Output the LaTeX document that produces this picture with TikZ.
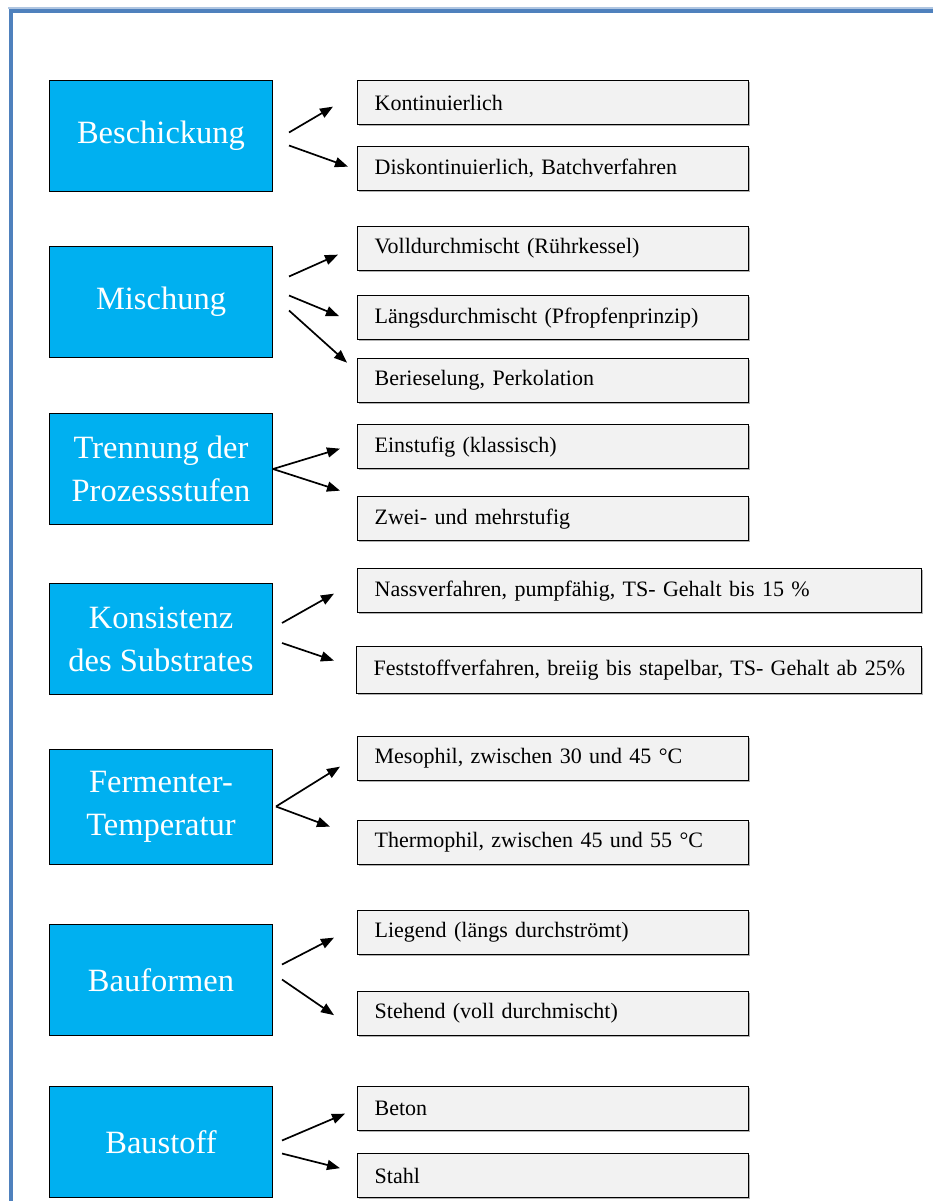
\documentclass[tikz,border=0pt]{standalone}
\usepackage{fontspec}
\setmainfont{Liberation Serif}
\usetikzlibrary{arrows.meta,calc,shadows}
\definecolor{framecol}{HTML}{4F81BD}
\definecolor{catfill}{HTML}{00B0F0}
\definecolor{optfill}{HTML}{F2F2F2}
\tikzset{
  cat/.style={draw=black, line width=1pt, fill=catfill, text=white,
    minimum width=223pt, minimum height=111pt, anchor=north west,
    align=center, inner sep=0pt,
    font=\fontsize{32.5}{43}\selectfont},
  opt/.style={draw=black, line width=1.3pt, fill=optfill,
    drop shadow={shadow xshift=1.5pt, shadow yshift=-1.5pt, fill=black!30, opacity=1},
    minimum height=44pt, anchor=north west, inner xsep=17pt, inner ysep=0pt,
    text width=357pt, align=left,
    font=\fontsize{22}{26}\selectfont},
  wideopt/.style={opt, text width=531pt},
  arr/.style={line width=1.7pt, -{Triangle[length=13pt,width=10pt]}},
}
\begin{document}
\begin{tikzpicture}[x=1pt,y=1pt]
\useasboundingbox (0,0) rectangle (933,-1201);
% page frame
\draw[framecol!45, line width=1.5pt] (8,-8) -- (933,-8);
\draw[framecol, line width=4pt] (11,-1201) -- (11,-11) -- (933,-11);

% categories
\node[cat] (b1) at (49,-80)   {Beschickung};
\node[cat] (b2) at (49,-246)  {Mischung};
\node[cat] (b3) at (49,-413)  {Trennung der\\Prozessstufen};
\node[cat] (b4) at (49,-583)  {Konsistenz\\des Substrates};
\node[cat, minimum height=115pt] (b5) at (49,-749)  {Fermenter-\\Temperatur};
\node[cat] (b6) at (49,-924)  {Bauformen};
\node[cat] (b7) at (49,-1086) {Baustoff};

% options
\node[opt] (t1)  at (357,-80)   {Kontinuierlich};
\node[opt] (t2)  at (357,-146)  {Diskontinuierlich, Batchverfahren};
\node[opt] (t3)  at (357,-226)  {Volldurchmischt (Rührkessel)};
\node[opt] (t4)  at (357,-295)  {Längsdurchmischt (Pfropfenprinzip)};
\node[opt] (t5)  at (357,-358)  {Berieselung, Perkolation};
\node[opt] (t6)  at (357,-424)  {Einstufig (klassisch)};
\node[opt] (t7)  at (357,-496)  {Zwei- und mehrstufig};
\node[wideopt, text width=530pt] (t8) at (357,-568)
  {\mbox{Nassverfahren, pumpfähig, TS- Gehalt bis 15 \%}};
\node[wideopt, minimum height=47pt] (t9) at (356,-646)
  {\mbox{Feststoffverfahren, breiig bis stapelbar, TS- Gehalt ab 25\%}};
\node[opt] (t10) at (357,-736)  {Mesophil, zwischen 30 und 45 °C};
\node[opt] (t11) at (357,-820)  {Thermophil, zwischen 45 und 55 °C};
\node[opt] (t12) at (357,-910)  {Liegend (längs durchströmt)};
\node[opt] (t13) at (357,-991)  {Stehend (voll durchmischt)};
\node[opt] (t14) at (357,-1086) {Beton};
\node[opt] (t15) at (357,-1153) {Stahl};

% connectors
\draw[arr] ($(b1.east)+(16,3.5)$)  -- ($(t1.west)+(-24,-4)$);
\draw[arr] ($(b1.east)+(16,-9.5)$) -- ($(t2.west)+(-9,2)$);

\draw[arr] ($(b2.east)+(16,25.5)$) -- ($(t3.west)+(-19,-6)$);
\draw[arr] ($(b2.east)+(16,6.5)$)  -- ($(t4.west)+(-18,1.5)$);
\draw[arr] ($(b2.east)+(16,-8.5)$) -- ($(t5.west)+(-10,18)$);

\draw[arr] (b3.east) -- ($(t6.west)+(-17,-2)$);
\draw[arr] (b3.east) -- ($(t7.west)+(-17,28)$);

\draw[arr] ($(b4.east)+(9,16)$) -- ($(t8.west)+(-23,-3)$);
\draw[arr] ($(b4.east)+(9,-4)$) -- ($(t9.west)+(-22,9.5)$);

\draw[arr] ($(b5.east)+(3,0.5)$) -- ($(t10.west)+(-17,-8)$);
\draw[arr] ($(b5.east)+(3,0.5)$) -- ($(t11.west)+(-27,16)$);

\draw[arr] ($(b6.east)+(9,15.5)$) -- ($(t12.west)+(-23,-5)$);
\draw[arr] ($(b6.east)+(9,0.5)$)  -- ($(t13.west)+(-23,-1.5)$);

\draw[arr] ($(b7.east)+(9,1.5)$)   -- ($(t14.west)+(-12,-5)$);
\draw[arr] ($(b7.east)+(9,-11.5)$) -- ($(t15.west)+(-17,7.5)$);
\end{tikzpicture}
\end{document}
